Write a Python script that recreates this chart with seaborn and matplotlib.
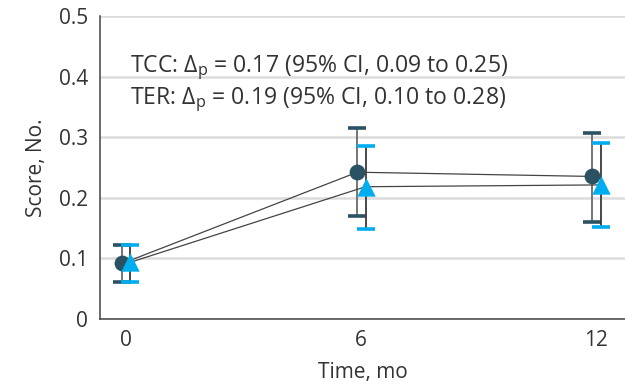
import matplotlib
matplotlib.use("Agg")
import matplotlib.pyplot as plt
import seaborn as sns
import pandas as pd
import numpy as np

# ---- data ----
months = [0, 6, 12]
tcc_mean = [0.091, 0.242, 0.235]
tcc_low = [0.061, 0.170, 0.159]
tcc_high = [0.122, 0.315, 0.307]
ter_mean = [0.093, 0.218, 0.221]
ter_low = [0.061, 0.148, 0.152]
ter_high = [0.121, 0.286, 0.290]
groups = ["TCC", "TER"]
annotations = [
    "TCC: Δ$_\\mathregular{p}$ = 0.17 (95% CI, 0.09 to 0.25)",
    "TER: Δ$_\\mathregular{p}$ = 0.19 (95% CI, 0.10 to 0.28)",
]
y_ticks = [0, 0.1, 0.2, 0.3, 0.4, 0.5]
y_ticklabels = ["0", "0.1", "0.2", "0.3", "0.4", "0.5"]
x_label = "Time, mo"
y_label = "Score, No."

sns.set_style("white")
FONT = ["Open Sans", "DejaVu Sans"]
plt.rcParams["font.family"] = FONT
plt.rcParams["mathtext.default"] = "regular"

text_color = "#333333"
dark = "#2b5263"
blue = "#00aeef"
offsets = {"TCC": -0.09, "TER": 0.12}
colors = {"TCC": dark, "TER": blue}
markers = {"TCC": "o", "TER": "^"}
bar_colors = {"TCC": "#6a6a6a", "TER": "#3a3a3a"}
marker_sizes = {"TCC": 130, "TER": 175}

df = pd.DataFrame({
    "month": months * 2,
    "score": tcc_mean + ter_mean,
    "low": tcc_low + ter_low,
    "high": tcc_high + ter_high,
    "group": ["TCC"] * 3 + ["TER"] * 3,
})
df["x"] = df["month"] + df["group"].map(offsets)

fig = plt.figure(figsize=(6.25, 3.87), dpi=100)
ax = fig.add_axes([0.16, 0.177, 0.84, 0.781])

# connecting lines
sns.lineplot(data=df, x="x", y="score", units="group", estimator=None,
             color="#444444", linewidth=0.9, ax=ax, zorder=3, legend=False)

# error bars
for g in groups:
    sub = df[df["group"] == g]
    yerr = np.vstack([sub["score"] - sub["low"], sub["high"] - sub["score"]])
    _, caps, bars = ax.errorbar(sub["x"], sub["score"], yerr=yerr, fmt="none",
                                ecolor=bar_colors[g], elinewidth=1.3, capsize=6.5,
                                capthick=2.6, zorder=2)
    for c in caps:
        c.set_color(colors[g])
        c.set_markeredgecolor(colors[g])
        c.set_markerfacecolor(colors[g])

# markers
for g in groups:
    sub = df[df["group"] == g]
    sns.scatterplot(data=sub, x="x", y="score", color=colors[g],
                    marker=markers[g], s=marker_sizes[g], ax=ax,
                    legend=False, zorder=4, linewidth=0)

for i, t in enumerate(annotations):
    ax.text(0.11, 0.4076 - i * 0.0528, t, fontsize=16.6, color=text_color,
            va="baseline", ha="left", zorder=5)

ax.set_xlim(-0.655, 12.74)
ax.set_ylim(0, 0.5)
ax.set_xticks(months)
ax.set_xticklabels([str(m) for m in months])
ax.set_yticks(y_ticks)
ax.set_yticklabels(y_ticklabels)
ax.grid(axis="y", color="#dcdcdc", linewidth=1.8, zorder=0)
ax.set_axisbelow(True)
for s in ["top", "right"]:
    ax.spines[s].set_visible(False)
for s in ["left", "bottom"]:
    ax.spines[s].set_color("#444444")
    ax.spines[s].set_linewidth(1.1)
ax.tick_params(axis="both", length=5.4, width=1.1, color="#999999",
               labelsize=15, labelcolor=text_color, direction="out")
ax.tick_params(axis="y", pad=3)
ax.tick_params(axis="x", pad=3)
ax.set_xlabel(x_label, fontsize=15, color=text_color, labelpad=8)
ax.set_ylabel(y_label, fontsize=15, color=text_color, labelpad=9)

fig.savefig("out.png", dpi=100)
